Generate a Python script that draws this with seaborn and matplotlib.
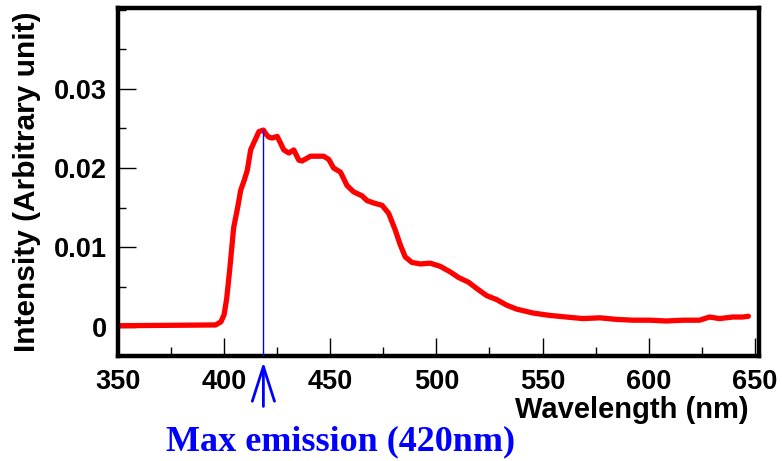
import numpy as np
import pandas as pd
import matplotlib
matplotlib.use("Agg")
import matplotlib.pyplot as plt
import seaborn as sns
from matplotlib.ticker import MultipleLocator

# ---- data ----
wavelength = [350, 396, 398.5, 400, 401.2, 402.6, 404.5, 406.5, 407.8, 409.5,
              410.9, 412.5, 414.5, 416.4, 418.5, 420, 421.1, 422.7, 425.0, 426.5,
              428.1, 430.5, 432.8, 435.2, 436.7, 440.7, 446.9, 449.3, 451.6, 454.8,
              457.9, 461.0, 465.0, 467.3, 470.4, 474.4, 477.5, 480.6, 483.0, 485.3,
              488.4, 492.4, 497.1, 501.8, 506.5, 510.4, 515.1, 519.0, 523.7, 528.4,
              533.1, 537.8, 542.5, 545.6, 553.5, 561.3, 569.1, 577, 584.8, 592.6,
              600.5, 608.3, 616.1, 624.0, 628.7, 633.4, 639.6, 644.3, 647]
intensity = [0.0001, 0.0002, 0.0006, 0.0015, 0.0035, 0.0071, 0.0125, 0.0152, 0.0172, 0.0185,
             0.0197, 0.0223, 0.0235, 0.0246, 0.0248, 0.0242, 0.0239, 0.0238, 0.0240, 0.0232,
             0.0223, 0.0219, 0.0223, 0.0210, 0.0209, 0.0215, 0.0215, 0.0211, 0.0200, 0.0195,
             0.0178, 0.0170, 0.0165, 0.0159, 0.0156, 0.0153, 0.0143, 0.0122, 0.0103, 0.0088,
             0.0081, 0.0079, 0.0080, 0.0076, 0.0069, 0.0062, 0.0056, 0.0048, 0.0039, 0.0034,
             0.0027, 0.0022, 0.0019, 0.0017, 0.0014, 0.0012, 0.0010, 0.0011, 0.0009, 0.0008,
             0.0008, 0.0007, 0.0008, 0.0008, 0.0012, 0.0010, 0.0012, 0.0012, 0.0013]
x_ticks = [350, 400, 450, 500, 550, 600, 650]
y_ticks = [0, 0.01, 0.02, 0.03]
y_tick_labels = ["0", "0.01", "0.02", "0.03"]
x_label = "Wavelength (nm)"
y_label = "Intensity (Arbitrary unit)"
annotation = "Max emission (420nm)"

df = pd.DataFrame({"wavelength": wavelength, "intensity": intensity})

sns.set_style("ticks")
plt.rcParams["font.family"] = ["Liberation Sans", "DejaVu Sans"]
for k in ["text.color", "axes.labelcolor", "xtick.color", "ytick.color",
          "xtick.labelcolor", "ytick.labelcolor"]:
    plt.rcParams[k] = "black"

W, H = 782, 461
fig = plt.figure(figsize=(W / 100, H / 100), dpi=100)
ax = fig.add_axes([118 / W, 1 - 356 / H, (759 - 118) / W, (356 - 8) / H])

sns.lineplot(data=df, x="wavelength", y="intensity", ax=ax, color="#ff0000",
             linewidth=3.8, estimator=None, sort=False)

ylo, yhi = -0.00372, 0.04021
ax.set_xlim(350, 652)
ax.set_ylim(ylo, yhi)

ax.set_xticks(x_ticks)
ax.xaxis.set_minor_locator(MultipleLocator(25))
ax.set_yticks(y_ticks)
ax.set_yticklabels(y_tick_labels)
ax.yaxis.set_minor_locator(MultipleLocator(0.005))

ax.tick_params(axis="both", which="major", direction="in", length=13, width=1.0,
               labelsize=19.5, color="black", labelcolor="black")
ax.tick_params(axis="x", which="minor", direction="in", length=6.5, width=1.0, color="black")
ax.tick_params(axis="y", which="minor", direction="in", length=5.5, width=1.0, color="black")
for lab in ax.get_xticklabels() + ax.get_yticklabels():
    lab.set_fontweight("bold")
ax.tick_params(axis="x", pad=9)
ax.tick_params(axis="y", pad=8)

for sp in ax.spines.values():
    sp.set_visible(True)
    sp.set_linewidth(3.2)
    sp.set_color("black")

ax.set_xlabel("")
ax.set_ylabel("")
fig.text(749 / W, 1 - 396 / H, x_label, ha="right", va="top",
         fontsize=21, fontweight="bold", color="black")
fig.text(27 / W, 1 - 12 / H, y_label, ha="center", va="top", rotation=90,
         fontsize=21.5, fontweight="bold", color="black")

# peak marker
i_max = int(np.argmax(intensity))
peak_x, peak_y = wavelength[i_max], intensity[i_max]
ax.plot([peak_x, peak_x], [ylo, peak_y], color="#0000ff", linewidth=1.0, zorder=3)

trans = ax.get_xaxis_transform()
ax.annotate("", xy=(peak_x, -0.0172), xycoords=trans,
            xytext=(peak_x, -0.145), textcoords=trans,
            arrowprops=dict(arrowstyle="->,head_length=2.5,head_width=0.8",
                            color="#0000ff", linewidth=2.0, shrinkA=0, shrinkB=0),
            annotation_clip=False)
fig.text(341 / W, 1 - 442 / H, annotation, ha="center", va="center",
         fontsize=26, fontweight="bold", color="#0000ff",
         family=["Liberation Serif", "DejaVu Serif"])

fig.savefig("out.png", dpi=100)
